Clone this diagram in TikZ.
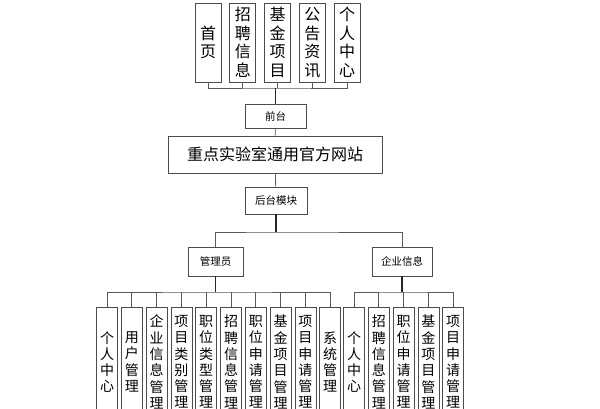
\documentclass[tikz,border=0pt]{standalone}
\usepackage{fontspec}
\setmainfont{Noto Sans CJK SC}
\usetikzlibrary{positioning}

\begin{document}
\begin{tikzpicture}[
            x=1pt, y=1pt,
            every node/.style={draw=black!70, line width=0.8pt, inner sep=0pt, align=center, fill=white},
            topbox/.style={minimum width=26pt, minimum height=79pt, font=\fontsize{16}{18.5}\selectfont},
            leafbox/.style={minimum width=21pt, minimum height=110pt, font=\fontsize{14}{16.3}\selectfont},
            midbox/.style={minimum height=25pt, font=\fontsize{10.5}{12}\selectfont},
            bus/.style={draw=black!65, line width=0.8pt},
            trunk/.style={draw=black!85, line width=1.2pt}
          ]
          \useasboundingbox (0,0) rectangle (600,-409);

          % Top row
          \node[topbox] (t1) at (208,-42.5) {首\\页};
          \node[topbox, right=8pt of t1] (t2) {招\\聘\\信\\息};
          \node[topbox, right=8pt of t2] (t3) {基\\金\\项\\目};
          \node[topbox, right=8pt of t3] (t4) {公\\告\\资\\讯};
          \node[topbox, right=8pt of t4] (t5) {个\\人\\中\\心};

          % Middle column
          \node[midbox, minimum width=61pt, minimum height=24pt] (qt) at (275.5,-116) {前台};
          \node[minimum width=214pt, minimum height=37pt, font=\fontsize{16}{18}\selectfont] (site) at (275,-154.5) {重点实验室通用官方网站};
          \node[midbox, minimum width=62pt, minimum height=27pt] (ht) at (276,-200.5) {后台模块};
          \node[midbox, minimum width=55pt, minimum height=29pt] (gly) at (215.5,-261.5) {管理员};
          \node[midbox, minimum width=60pt, minimum height=29pt] (qy) at (402,-261.5) {企业信息};

          % Admin leaves
          \node[leafbox] (a1) at (107,-362) {个\\人\\中\\心};
          \node[leafbox, right=3pt of a1] (a2) {用\\户\\管\\理};
          \node[leafbox, right=3pt of a2] (a3) {企\\业\\信\\息\\管\\理};
          \node[leafbox, right=3pt of a3] (a4) {项\\目\\类\\别\\管\\理};
          \node[leafbox, right=3pt of a4] (a5) {职\\位\\类\\型\\管\\理};
          \node[leafbox, right=3pt of a5] (a6) {招\\聘\\信\\息\\管\\理};
          \node[leafbox, right=3pt of a6] (a7) {职\\位\\申\\请\\管\\理};
          \node[leafbox, right=3pt of a7] (a8) {基\\金\\项\\目\\管\\理};
          \node[leafbox, right=3pt of a8] (a9) {项\\目\\申\\请\\管\\理};
          \node[leafbox, right=3pt of a9] (a10) {系\\统\\管\\理};

          % Enterprise leaves
          \node[leafbox] (e1) at (354,-362) {个\\人\\中\\心};
          \node[leafbox, right=3pt of e1] (e2) {招\\聘\\信\\息\\管\\理};
          \node[leafbox, right=3pt of e2] (e3) {职\\位\\申\\请\\管\\理};
          \node[leafbox, right=3pt of e3] (e4) {基\\金\\项\\目\\管\\理};
          \node[leafbox, right=3pt of e4] (e5) {项\\目\\申\\请\\管\\理};

          % Bus points
          \coordinate (tbus) at (qt.north |- 0,-88);
          \coordinate (hbus) at (ht.south |- 0,-232);
          \coordinate (abus) at (gly.south |- 0,-292);
          \coordinate (ebus) at (qy.south |- 0,-292);

          % Edges
          \draw[bus] (t1.south) |- (tbus) -| (t5.south);
          \draw[bus] (t2.south) -- (t2.south |- tbus);
          \draw[bus] (t3.south) -- (t3.south |- tbus);
          \draw[bus] (t4.south) -- (t4.south |- tbus);
          \draw[trunk] (tbus) -- (qt.north);
          \draw[bus] (qt) -- (site);
          \draw[bus] (site) -- (ht);
          \draw[trunk] (ht.south) -- (hbus);
          \draw[bus] (gly.north) |- (hbus) -| (qy.north);

          \draw[trunk] (gly.south) -- (abus);
          \draw[bus] (a1.north) |- (abus) -| (a10.north);
          \draw[bus] (a2.north) -- (a2.north |- abus);
          \draw[bus] (a3.north) -- (a3.north |- abus);
          \draw[bus] (a4.north) -- (a4.north |- abus);
          \draw[bus] (a5.north) -- (a5.north |- abus);
          \draw[bus] (a6.north) -- (a6.north |- abus);
          \draw[bus] (a7.north) -- (a7.north |- abus);
          \draw[bus] (a8.north) -- (a8.north |- abus);
          \draw[bus] (a9.north) -- (a9.north |- abus);

          \draw[trunk] (qy.south) -- (ebus);
          \draw[bus] (e1.north) |- (ebus) -| (e5.north);
          \draw[bus] (e2.north) -- (e2.north |- ebus);
          \draw[bus] (e3.north) -- (e3.north |- ebus);
          \draw[bus] (e4.north) -- (e4.north |- ebus);

        \end{tikzpicture}
\end{document}
